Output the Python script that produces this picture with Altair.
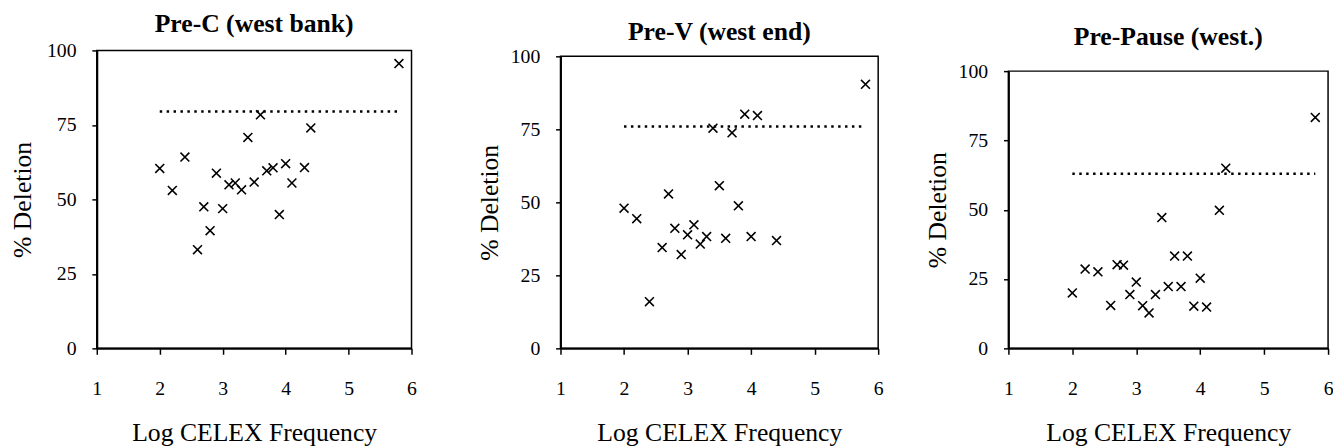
import altair as alt
import pandas as pd

# ---- data ----
titles = ["Pre-C (west bank)", "Pre-V (west end)", "Pre-Pause (west.)"]

x_prec = [2.0, 2.2, 2.4, 2.6, 2.7, 2.8, 2.9, 3.0, 3.1, 3.2, 3.3, 3.4, 3.5, 3.6, 3.7, 3.8, 3.9, 4.0, 4.1, 4.3, 4.4, 5.8]
y_prec = [60.4, 53.0, 64.2, 33.1, 47.5, 39.5, 58.8, 46.9, 54.9, 55.5, 53.2, 70.8, 55.8, 78.4, 59.6, 60.6, 44.9, 62.0, 55.5, 60.7, 74.0, 95.6]

x_prev = [2.0, 2.2, 2.4, 2.6, 2.7, 2.8, 2.9, 3.0, 3.1, 3.2, 3.3, 3.4, 3.5, 3.6, 3.7, 3.8, 3.9, 4.0, 4.1, 4.4, 5.8]
y_prev = [48.0, 44.4, 16.0, 34.5, 52.9, 41.1, 32.1, 38.9, 42.3, 35.7, 38.3, 75.4, 55.7, 37.7, 73.8, 48.8, 80.2, 38.3, 79.7, 36.9, 90.4]

x_prep = [2.0, 2.2, 2.4, 2.6, 2.7, 2.8, 2.9, 3.0, 3.1, 3.2, 3.3, 3.4, 3.5, 3.6, 3.7, 3.8, 3.9, 4.0, 4.1, 4.3, 4.4, 5.8]
y_prep = [20.0, 28.6, 27.6, 15.5, 30.2, 30.0, 19.4, 23.9, 15.4, 12.8, 19.4, 47.2, 22.3, 33.3, 22.3, 33.3, 15.2, 25.3, 14.9, 49.8, 65.0, 83.3]

ref_levels = [79.5, 76.0, 63.0]

x_domain = [1, 6]
y_domain = [0, 100]
x_ticks = [1, 2, 3, 4, 5, 6]
y_ticks = [0, 25, 50, 75, 100]

FONT = "Liberation Serif, Times New Roman, DejaVu Serif, serif"
X_SHAPE = "M-1,-1L1,1M-1,1L1,-1"
H = 302


def panel(xs, ys, level, title, width, top_gap, title_offset, ytitle_pad):
    pts = pd.DataFrame({"x": xs, "y": ys})
    ref = pd.DataFrame({"x": [min(xs)], "x2": [max(xs)], "y": [level]})
    frame = pd.DataFrame({"x": [x_domain[0]], "x2": [x_domain[1]],
                          "y": [y_domain[0]], "y2": [y_domain[1]]})

    xs_ = alt.Scale(domain=x_domain, nice=False, zero=False)
    ys_ = alt.Scale(domain=y_domain, nice=False, range=[H, top_gap])
    xax = alt.Axis(values=x_ticks, grid=False, tickSize=6, tickWidth=1.5,
                   domainWidth=2, domainColor="black", tickColor="black",
                   labelFont=FONT, labelFontSize=20, labelColor="black",
                   labelPadding=25, labelFlush=False,
                   title="Log CELEX Frequency", titleFont=FONT, titleFontSize=26,
                   titleFontWeight="normal", titleColor="black", titlePadding=21)
    yax = alt.Axis(values=y_ticks, grid=False, tickSize=5, tickWidth=1.5,
                   domainWidth=2, domainColor="black", tickColor="black",
                   labelFont=FONT, labelFontSize=20, labelColor="black",
                   labelPadding=16, labelFlush=False,
                   title="% Deletion", titleFont=FONT, titleFontSize=26,
                   titleFontWeight="normal", titleColor="black",
                   titlePadding=ytitle_pad)

    X = alt.X("x:Q", scale=xs_, axis=xax)
    Y = alt.Y("y:Q", scale=ys_, axis=yax)

    box = alt.Chart(frame).mark_rect(fill=None, stroke="black", strokeWidth=1.5).encode(
        x=X, x2="x2:Q", y=Y, y2="y2:Q")
    rule = alt.Chart(ref).mark_rule(color="black", strokeWidth=2.5,
                                    strokeDash=[2.5, 4.5]).encode(
        x=X, x2="x2:Q", y=Y)
    dots = alt.Chart(pts).mark_point(shape=X_SHAPE, size=81, filled=False,
                                     color="black", strokeWidth=1.6,
                                     opacity=1).encode(x=X, y=Y)
    return alt.layer(box, rule, dots).properties(
        width=width, height=H,
        title=alt.TitleParams(title, font=FONT, fontSize=26, fontWeight="bold",
                              color="black", baseline="alphabetic",
                              anchor="middle", offset=title_offset))


p1 = panel(x_prec, y_prec, ref_levels[0], titles[0], 319, 0, -17, 11)
p2 = panel(x_prev, y_prev, ref_levels[1], titles[1], 322, 6, -19, 8)
p3 = panel(x_prep, y_prep, ref_levels[2], titles[2], 324, 21, -21, 8)

chart = alt.hconcat(alt.hconcat(p1, p2, spacing=61), p3, spacing=42).configure_view(
    stroke=None).properties(padding={"left": 2, "top": 0, "right": 0, "bottom": 0})

chart.save("out.html", embed_options={"renderer": "svg", "actions": False})
